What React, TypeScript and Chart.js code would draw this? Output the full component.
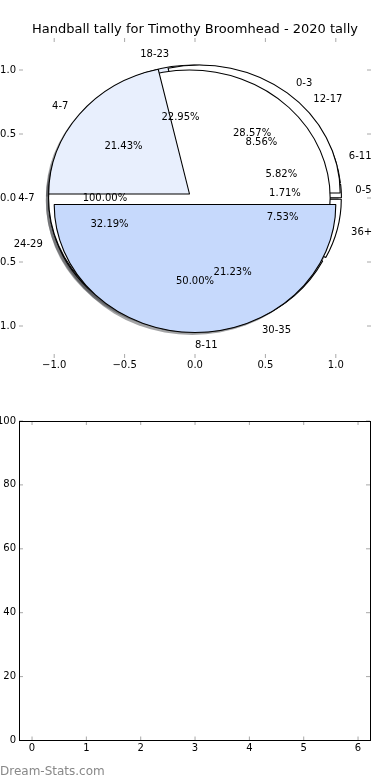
import React, { useEffect, useRef } from 'react';
import { Chart, registerables } from 'chart.js';

Chart.register(...registerables);

// ---------- data ----------
const chartTitle = 'Handball tally for Timothy Broomhead - 2020 tally';
const watermark = 'Dream-Stats.com';

// wedges listed counter-clockwise from 3 o'clock (as in the source pies)
const groupsWide = ['0-5', '6-11', '12-17', '18-23', '24-29', '30-35', '36+'];
const sharesWide = [1.71, 5.82, 8.56, 22.95, 32.19, 21.23, 7.53];

const groupsSingle = ['4-7'];
const sharesSingle = [100];

const groupsYoung = ['0-3', '4-7', '8-11'];
const sharesYoung = [28.57, 21.43, 50.0];

const pieAxisTicks = [-1, -0.5, 0, 0.5, 1];
const bottomXTicks = [0, 1, 2, 3, 4, 5, 6];
const bottomYTicks = [0, 20, 40, 60, 80, 100];

// ---------- styling ----------
const FONT = "'DejaVu Sans', 'Liberation Sans', sans-serif";
const R = 128; // pie radius (vertical pixels)
const SX = 1.1; // horizontal stretch of the pie axes (x unit / y unit)
const PIE_W = 374;
const PIE_H = 340;
const PIE_LEFT = 8;
const PIE_TOP = 28;
const TICK_COLOR = '#a8a8a8';
const TICK_LEN = 4;
const NONE = 'rgba(0,0,0,0)';
const SHADOW = 'rgba(72,74,78,0.5)';
const LIGHT = '#e8effd';
const BLUE = '#c6d9fc';
const TAU = Math.PI * 2;

const specWide = {
  labels: groupsWide,
  values: sharesWide,
  fill: ['#ffffff', '#ffffff', '#ffffff', LIGHT, '#ffffff', '#ffffff', '#ffffff'],
  explode: 0.04,
  fullCircle: false,
};
const specSingle = {
  labels: groupsSingle,
  values: sharesSingle,
  fill: ['#ffffff'],
  explode: 0.04,
  fullCircle: true,
};
const specYoung = {
  labels: groupsYoung,
  values: sharesYoung,
  fill: ['#ffffff', LIGHT, BLUE],
  explode: 0.05,
  fullCircle: false,
};

// stacking of the pie layers, bottom to top
const pieLayers = [
  { spec: specWide, show: [true, true, true, true, true, true, true], text: true },
  { spec: specYoung, show: [true, false, false], text: false },
  { spec: specSingle, show: [true], text: true },
  { spec: specYoung, show: [false, true, true], text: true },
];

const fmtPieTick = (v: any) => Number(v).toFixed(1).replace('-', '\u2212');

function tickMarks(frame: boolean) {
  return {
    id: 'tickmarks',
    afterDraw(chart: any) {
      const { ctx, chartArea: a, scales } = chart;
      ctx.save();
      ctx.strokeStyle = TICK_COLOR;
      ctx.lineWidth = 1;
      ctx.beginPath();
      scales.x.ticks.forEach((t: any) => {
        const p = scales.x.getPixelForValue(t.value);
        ctx.moveTo(p, a.top);
        ctx.lineTo(p, a.top + TICK_LEN);
        ctx.moveTo(p, a.bottom);
        ctx.lineTo(p, a.bottom - TICK_LEN);
      });
      scales.y.ticks.forEach((t: any) => {
        const p = scales.y.getPixelForValue(t.value);
        ctx.moveTo(a.left, p);
        ctx.lineTo(a.left + TICK_LEN, p);
        ctx.moveTo(a.right, p);
        ctx.lineTo(a.right - TICK_LEN, p);
      });
      ctx.stroke();
      if (frame) {
        ctx.strokeStyle = '#000';
        ctx.lineWidth = 1;
        const l = Math.floor(a.left) + 0.5;
        const t = Math.floor(a.top) + 0.5;
        const r = Math.floor(a.right) + 0.5;
        const b = Math.floor(a.bottom) + 0.5;
        ctx.strokeRect(l, t, r - l, b - t);
      }
      ctx.restore();
    },
  };
}

function axisScale(min: number, max: number, values: number[], pos: string, fmt: any, padding: number, size: number, showLabels = true) {
  const isX = pos === 'bottom' || pos === 'top';
  return {
    type: 'linear',
    min,
    max,
    position: pos,
    grid: { display: false, drawTicks: false },
    border: { display: false },
    ticks: {
      display: showLabels,
      color: '#000',
      font: { family: FONT, size: 10 },
      padding,
      maxRotation: 0,
      autoSkip: false,
      callback: fmt,
    },
    afterBuildTicks: (s: any) => {
      s.ticks = values.map((v) => ({ value: v }));
    },
    afterFit: (s: any) => {
      if (isX) s.height = size;
      else s.width = size;
    },
  };
}

function makePieConfig(layer: any, k: number, pies: any[]) {
  const spec = layer.spec;
  const rev = (a: any[]) => [...a].reverse();
  const fills = spec.fill.map((f: string, i: number) => (layer.show[i] ? f : NONE));
  const edges = spec.fill.map((_f: string, i: number) => (layer.show[i] && !spec.fullCircle ? '#000000' : NONE));
  const plugins: any[] = [
    {
      id: 'stretch',
      beforeDraw(chart: any) {
        const cx = (chart.chartArea.left + chart.chartArea.right) / 2;
        chart.ctx.setTransform(SX, 0, 0, 1, (1 - SX) * cx, 0);
      },
    },
    {
      id: 'explode',
      afterDatasetsUpdate(chart: any) {
        chart.getDatasetMeta(0).data.forEach((arc: any) => {
          const mid = (arc.startAngle + arc.endAngle) / 2;
          arc.x += Math.cos(mid) * spec.explode * R;
          arc.y += Math.sin(mid) * spec.explode * R;
        });
      },
    },
  ];
  if (k === 0) {
    plugins.push({
      id: 'shadows',
      beforeDatasetsDraw(chart: any) {
        const list = pies.length === pieLayers.length ? pies : [chart];
        const ctx = chart.ctx;
        ctx.save();
        ctx.fillStyle = SHADOW;
        list.forEach((c: any) => {
          const fl = c.data.datasets[0].backgroundColor;
          c.getDatasetMeta(0).data.forEach((arc: any, i: number) => {
            if (fl[i] === NONE) return;
            const x = arc.x - 0.02 * R;
            const y = arc.y + 0.02 * R;
            ctx.beginPath();
            if (arc.endAngle - arc.startAngle >= TAU - 1e-6) {
              ctx.arc(x, y, arc.outerRadius, 0, TAU);
            } else {
              ctx.moveTo(x, y);
              ctx.arc(x, y, arc.outerRadius, arc.startAngle, arc.endAngle);
              ctx.closePath();
            }
            ctx.fill();
          });
        });
        ctx.restore();
      },
    });
  }
  if (spec.fullCircle) {
    plugins.push({
      id: 'outline',
      afterDatasetsDraw(chart: any) {
        const ctx = chart.ctx;
        ctx.save();
        ctx.strokeStyle = '#000';
        ctx.lineWidth = 1;
        chart.getDatasetMeta(0).data.forEach((arc: any) => {
          ctx.beginPath();
          ctx.arc(arc.x, arc.y, arc.outerRadius, 0, TAU);
          ctx.stroke();
        });
        ctx.restore();
      },
    });
  }
  if (k === pieLayers.length - 1) {
    plugins.push({
      id: 'pieText',
      afterDraw(chart: any) {
        const all = [...pies.filter((c) => c !== chart), chart];
        const list = all.filter((c: any, i: number) => pieLayers[i] && pieLayers[i].text);
        const ctx = chart.ctx;
        ctx.save();
        ctx.setTransform(1, 0, 0, 1, 0, 0);
        ctx.font = `10px ${FONT}`;
        ctx.fillStyle = '#000';
        ctx.textBaseline = 'middle';
        list.forEach((c: any) => {
          const cx = (c.chartArea.left + c.chartArea.right) / 2;
          const toX = (v: number) => cx + SX * (v - cx);
          const labels = c.data.labels;
          const data = c.data.datasets[0].data;
          const total = data.reduce((s: number, v: number) => s + v, 0);
          c.getDatasetMeta(0).data.forEach((arc: any, i: number) => {
            const mid = (arc.startAngle + arc.endAngle) / 2;
            const cos = Math.cos(mid);
            const sin = Math.sin(mid);
            const lx = arc.x + 1.1 * arc.outerRadius * cos;
            const ly = arc.y + 1.1 * arc.outerRadius * sin;
            ctx.textAlign = lx - cx > -1e-6 ? 'left' : 'right';
            ctx.fillText(String(labels[i]), toX(lx), ly);
            ctx.textAlign = 'center';
            const px = arc.x + 0.6 * arc.outerRadius * cos;
            const py = arc.y + 0.6 * arc.outerRadius * sin;
            ctx.fillText(((100 * data[i]) / total).toFixed(2) + '%', toX(px), py);
          });
        });
        ctx.restore();
      },
    });
  }
  return {
    type: 'pie',
    data: {
      labels: rev(spec.labels),
      datasets: [
        {
          data: rev(spec.values),
          backgroundColor: rev(fills),
          borderColor: rev(edges),
          borderWidth: spec.fullCircle ? 0 : 1,
          hoverOffset: 0,
          offset: 0,
        },
      ],
    },
    options: {
      responsive: false,
      animation: false,
      events: [],
      rotation: 90,
      radius: R,
      layout: { padding: 0 },
      plugins: {
        legend: { display: false },
        tooltip: { enabled: false },
        title: { display: false },
      },
    },
    plugins,
  };
}

export default function App() {
  const topRef = useRef<HTMLCanvasElement>(null);
  const pieRef0 = useRef<HTMLCanvasElement>(null);
  const pieRef1 = useRef<HTMLCanvasElement>(null);
  const pieRef2 = useRef<HTMLCanvasElement>(null);
  const pieRef3 = useRef<HTMLCanvasElement>(null);
  const botRef = useRef<HTMLCanvasElement>(null);

  useEffect(() => {
    const charts: any[] = [];
    const pies: any[] = [];

    charts.push(
      new Chart(topRef.current as any, {
        type: 'scatter',
        data: { datasets: [{ data: [] }] },
        options: {
          responsive: true,
          maintainAspectRatio: false,
          animation: false,
          events: [],
          layout: { padding: 0, autoPadding: false },
          plugins: {
            legend: { display: false },
            tooltip: { enabled: false },
            title: {
              display: true,
              text: chartTitle,
              color: '#000',
              font: { family: FONT, size: 13, weight: 'normal' },
              padding: { top: 22, bottom: 0.4 },
            },
          },
          scales: {
            x: axisScale(-1.25, 1.25, pieAxisTicks, 'bottom', fmtPieTick, 1, 22),
            y: axisScale(-1.25, 1.25, pieAxisTicks, 'left', fmtPieTick, 3, 19),
            yRight: axisScale(-1.25, 1.25, pieAxisTicks, 'right', fmtPieTick, 0, 19, false),
          },
        } as any,
        plugins: [tickMarks(false)],
      } as any)
    );

    const refs = [pieRef0, pieRef1, pieRef2, pieRef3];
    pieLayers.forEach((layer, k) => {
      const c = new Chart(refs[k].current as any, makePieConfig(layer, k, pies) as any);
      pies.push(c);
      charts.push(c);
    });
    pies.forEach((c) => c.draw());

    charts.push(
      new Chart(botRef.current as any, {
        type: 'scatter',
        data: { datasets: [{ data: [] }] },
        options: {
          responsive: true,
          maintainAspectRatio: false,
          animation: false,
          events: [],
          layout: { padding: { left: 0, right: 20, top: 41, bottom: 17.5 }, autoPadding: false },
          plugins: { legend: { display: false }, tooltip: { enabled: false } },
          scales: {
            x: axisScale(-0.24, 6.22, bottomXTicks, 'bottom', (v: any) => String(v), 2, 22),
            y: axisScale(0, 100, bottomYTicks, 'left', (v: any) => String(v), 3, 19),
          },
        } as any,
        plugins: [tickMarks(true)],
      } as any)
    );

    return () => charts.forEach((c) => c.destroy());
  }, []);

  const abs = (left: number, top: number, width: number, height: number): any => ({
    position: 'absolute',
    left,
    top,
    width,
    height,
  });

  return (
    <div style={{ position: 'absolute', left: 0, top: 0, width: 390, height: 780, overflow: 'hidden', background: '#fff' }}>
      <div style={abs(0, 0, 390, 380)}>
        <canvas ref={topRef} />
      </div>
      <canvas ref={pieRef0} width={PIE_W} height={PIE_H} style={abs(PIE_LEFT, PIE_TOP, PIE_W, PIE_H)} />
      <canvas ref={pieRef1} width={PIE_W} height={PIE_H} style={abs(PIE_LEFT, PIE_TOP, PIE_W, PIE_H)} />
      <canvas ref={pieRef2} width={PIE_W} height={PIE_H} style={abs(PIE_LEFT, PIE_TOP, PIE_W, PIE_H)} />
      <canvas ref={pieRef3} width={PIE_W} height={PIE_H} style={abs(PIE_LEFT, PIE_TOP, PIE_W, PIE_H)} />
      <div style={abs(0, 380, 390, 400)}>
        <canvas ref={botRef} />
      </div>
      <div
        style={{
          position: 'absolute',
          left: 0,
          top: 764,
          fontFamily: FONT,
          fontSize: 12,
          lineHeight: '14px',
          color: '#888',
          whiteSpace: 'nowrap',
        }}
      >
        {watermark}
      </div>
    </div>
  );
}
